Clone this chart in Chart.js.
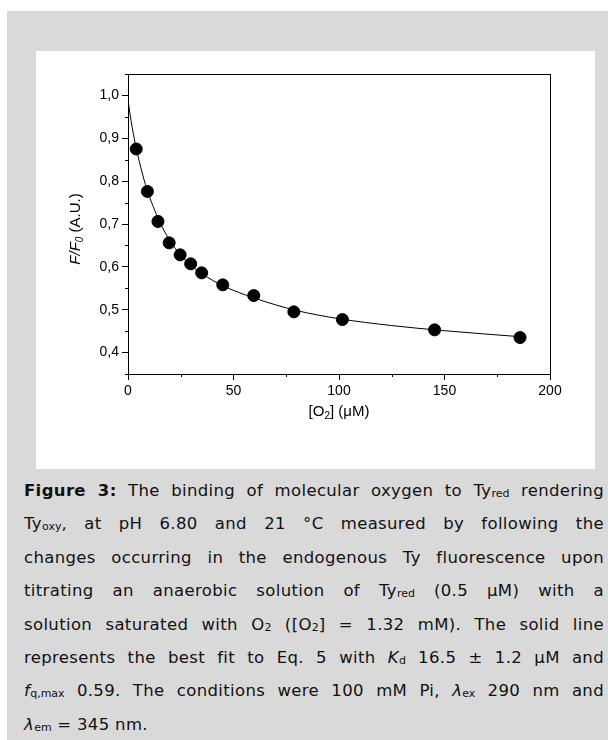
<!DOCTYPE html>
<html>
<head>
<meta charset="utf-8">
<script src="https://cdn.jsdelivr.net/npm/chart.js@4.4.1/dist/chart.umd.min.js"></script>
<style>
  html, body { margin: 0; padding: 0; background: #ffffff; }
  body { width: 608px; height: 740px; position: relative; overflow: hidden; }
  #bg { position: absolute; left: 7px; top: 11px; width: 601px; height: 729px; background: #d9d9d9; }
  #panel { position: absolute; left: 36px; top: 51px; width: 559px; height: 418px; background: #ffffff; }
  #panel canvas { display: block; }
  #caption { position: absolute; left: 24px; top: 474px; width: 580px;
    font-family: "DejaVu Sans", Verdana, sans-serif; font-size: 16.5px; letter-spacing: 0.35px; line-height: 33.4px; color: #111; }
  #caption .ln { text-align: justify; text-align-last: justify; }
  #caption .last { text-align: left; text-align-last: left; }
  #caption sub { font-size: 11px; letter-spacing: 0; vertical-align: -1px; line-height: 0; }
</style>
</head>
<body>
<div id="bg"></div>
<div id="panel"><canvas id="c" width="559" height="418"></canvas></div>
<div id="caption">
  <div class="ln"><b>Figure 3:</b> The binding of molecular oxygen to Ty<sub>red</sub> rendering</div>
  <div class="ln">Ty<sub>oxy</sub>, at pH 6.80 and 21 °C measured by following the</div>
  <div class="ln">changes occurring in the endogenous Ty fluorescence upon</div>
  <div class="ln">titrating an anaerobic solution of Ty<sub>red</sub> (0.5 μM) with a</div>
  <div class="ln">solution saturated with O<sub>2</sub> ([O<sub>2</sub>] = 1.32 mM). The solid line</div>
  <div class="ln">represents the best fit to Eq. 5 with <i>K</i><sub>d</sub> 16.5 ± 1.2 μM and</div>
  <div class="ln"><i>f</i><sub>q,max</sub> 0.59. The conditions were 100 mM Pi, <i>λ</i><sub>ex</sub> 290 nm and</div>
  <div class="ln last"><i>λ</i><sub>em</sub> = 345 nm.</div>
</div>
<script>
// measured points: [O2] (µM) and F/F0
const o2Values = [3.9, 9.2, 14.2, 19.5, 24.7, 29.7, 34.9, 44.9, 59.6, 78.6, 101.6, 145.3, 185.8];
const ratioValues = [0.875, 0.776, 0.706, 0.656, 0.628, 0.607, 0.586, 0.558, 0.533, 0.495, 0.477, 0.453, 0.435];
// fitted curve
const fitX = [0, 1, 2, 4, 6, 9, 12, 15, 20, 25, 30, 35, 45, 60, 80, 100, 125, 150, 186];
const fitY = [0.99, 0.955, 0.925, 0.875, 0.833, 0.78, 0.74, 0.705, 0.66, 0.627, 0.603, 0.584, 0.556, 0.527, 0.498, 0.479, 0.463, 0.451, 0.437];
const xTickLabels = ['0', '50', '100', '150', '200'];
const yTickLabels = ['0,4', '0,5', '0,6', '0,7', '0,8', '0,9', '1,0'];

const FONT = '"Liberation Sans", Arial, sans-serif';

function isMajor(v, step) { return Math.abs(v / step - Math.round(v / step)) < 1e-6; }

const framePlugin = {
  id: 'frame',
  afterDraw(chart) {
    const ctx = chart.ctx, a = chart.chartArea;
    const xs = chart.scales.x, ys = chart.scales.y;
    ctx.save();
    ctx.strokeStyle = '#000';
    ctx.lineWidth = 1;
    ctx.beginPath();
    ctx.moveTo(a.left, Math.round(a.top) + 0.5);
    ctx.lineTo(a.right, Math.round(a.top) + 0.5);
    ctx.moveTo(Math.round(a.right) + 0.5, a.top);
    ctx.lineTo(Math.round(a.right) + 0.5, a.bottom);
    ctx.stroke();
    ctx.beginPath();
    xs.ticks.forEach(t => {
      if (!isMajor(t.value, 50)) {
        const px = Math.round(xs.getPixelForValue(t.value)) + 0.5;
        ctx.moveTo(px, a.bottom); ctx.lineTo(px, a.bottom + 3);
      }
    });
    ys.ticks.forEach(t => {
      if (!isMajor(t.value, 0.1)) {
        const py = Math.round(ys.getPixelForValue(t.value)) + 0.5;
        ctx.moveTo(a.left, py); ctx.lineTo(a.left - 3, py);
      }
    });
    ctx.stroke();
    ctx.fillStyle = '#000';
    ctx.textBaseline = 'middle';
    const xt = [['[O', 15, 0], ['2', 10, 4], ['] (μM)', 15, 0]];
    let w = 0;
    xt.forEach(p => { ctx.font = p[1] + 'px ' + FONT; w += ctx.measureText(p[0]).width; });
    let x0 = (a.left + a.right) / 2 - w / 2;
    const yx = 361;
    xt.forEach(p => { ctx.font = p[1] + 'px ' + FONT; ctx.fillText(p[0], x0, yx + p[2]); x0 += ctx.measureText(p[0]).width; });
    ctx.translate(40, 178);
    ctx.rotate(-Math.PI / 2);
    const yt = [['F/F', 'italic 15px ', 0], ['0', 'italic 10px ', 4], [' (A.U.)', '15px ', 0]];
    w = 0;
    yt.forEach(p => { ctx.font = p[1] + FONT; w += ctx.measureText(p[0]).width; });
    x0 = -w / 2;
    yt.forEach(p => { ctx.font = p[1] + FONT; ctx.fillText(p[0], x0, p[2]); x0 += ctx.measureText(p[0]).width; });
    ctx.restore();
  }
};

new Chart(document.getElementById('c'), {
  type: 'scatter',
  data: {
    datasets: [
      {
        label: 'fit',
        data: fitX.map((x, i) => ({ x, y: fitY[i] })),
        showLine: true,
        borderColor: '#000',
        borderWidth: 1,
        pointRadius: 0,
        cubicInterpolationMode: 'monotone',
        fill: false,
        order: 2
      },
      {
        label: 'data',
        data: o2Values.map((x, i) => ({ x, y: ratioValues[i] })),
        backgroundColor: '#000',
        borderColor: '#000',
        pointRadius: 6,
        order: 1
      }
    ]
  },
  options: {
    responsive: false,
    animation: false,
    layout: { padding: { left: 0, right: 45, top: 23, bottom: 0 } },
    plugins: { legend: { display: false }, tooltip: { enabled: false } },
    scales: {
      x: {
        type: 'linear', min: 0, max: 200,
        afterFit(s) { s.height = 95; },
        border: { display: true, color: '#000', width: 1 },
        grid: { drawOnChartArea: false, drawTicks: true, tickLength: 6,
                tickColor: c => (c.tick && isMajor(c.tick.value, 50)) ? '#000' : 'rgba(0,0,0,0)' },
        ticks: { stepSize: 25, padding: 3, color: '#000', font: { family: FONT, size: 14 }, maxRotation: 0,
                 autoSkip: false,
                 callback: v => isMajor(v, 50) ? xTickLabels[Math.round(v / 50)] : '' }
      },
      y: {
        type: 'linear', min: 0.35, max: 1.05,
        afterFit(s) { s.width = 92; },
        border: { display: true, color: '#000', width: 1 },
        grid: { drawOnChartArea: false, drawTicks: true, tickLength: 6,
                tickColor: c => (c.tick && isMajor(c.tick.value, 0.1)) ? '#000' : 'rgba(0,0,0,0)' },
        ticks: { stepSize: 0.05, padding: 3, color: '#000', font: { family: FONT, size: 14 },
                 autoSkip: false,
                 callback: v => {
                   if (!isMajor(v, 0.1)) return '';
                   const i = Math.round(v * 10) - 4;
                   return (i >= 0 && i < yTickLabels.length) ? yTickLabels[i] : '';
                 } }
      }
    }
  },
  plugins: [framePlugin]
});
</script>
</body>
</html>
